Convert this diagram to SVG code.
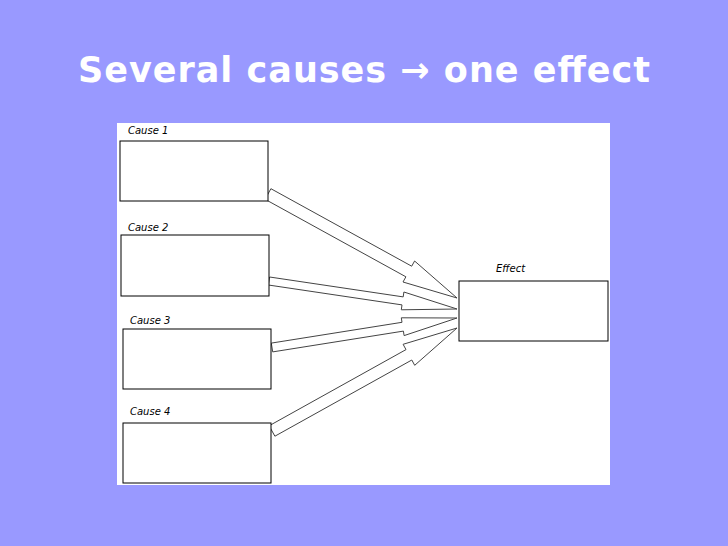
<svg xmlns="http://www.w3.org/2000/svg" width="728" height="546" viewBox="0 0 728 546">
<style>
.box{fill:#fff;stroke:#000;stroke-width:1}
.arr{fill:#fff;stroke:#444;stroke-width:1}
.lbl{font-family:"DejaVu Sans",sans-serif;font-size:10px;font-style:italic;fill:#000}
</style>
<rect width="728" height="546" fill="#9999ff"/>
<text x="364" y="82" text-anchor="middle" font-family="'DejaVu Sans',sans-serif" font-weight="bold" font-size="35" fill="#fff" textLength="572">Several causes → one effect</text>
<rect x="117" y="123" width="493" height="362" fill="#fff"/>
<g id="connectors">
<polygon class="arr" points="270.9,188.7 411.7,266.2 414.6,261 457,298 403,282 405.9,276.8 265.1,199.3"/>
<polygon class="arr" points="269.6,277 403.2,296.9 403.9,292 457,309 401.3,309.8 402,304.9 268.4,285"/>
<polygon class="arr" points="271.3,343.1 402,322.3 401.3,317.8 457,318 404.1,335.6 403.4,331.1 272.7,351.9"/>
<polygon class="arr" points="269.1,425.8 406,349.6 403.1,344.3 457,328 414.7,365.3 411.8,360 274.9,436.2"/>
</g>
<g id="cause1"><text class="lbl" x="128" y="134">Cause 1</text><rect class="box" x="120" y="141" width="148" height="60"/></g>
<g id="cause2"><text class="lbl" x="128" y="231">Cause 2</text><rect class="box" x="121" y="235" width="148" height="61"/></g>
<g id="cause3"><text class="lbl" x="130" y="324">Cause 3</text><rect class="box" x="123" y="329" width="148" height="60"/></g>
<g id="cause4"><text class="lbl" x="130" y="415">Cause 4</text><rect class="box" x="123" y="423" width="148" height="60"/></g>
<g id="effect"><text class="lbl" x="496" y="272">Effect</text><rect class="box" x="459" y="281" width="149" height="60"/></g>
</svg>
